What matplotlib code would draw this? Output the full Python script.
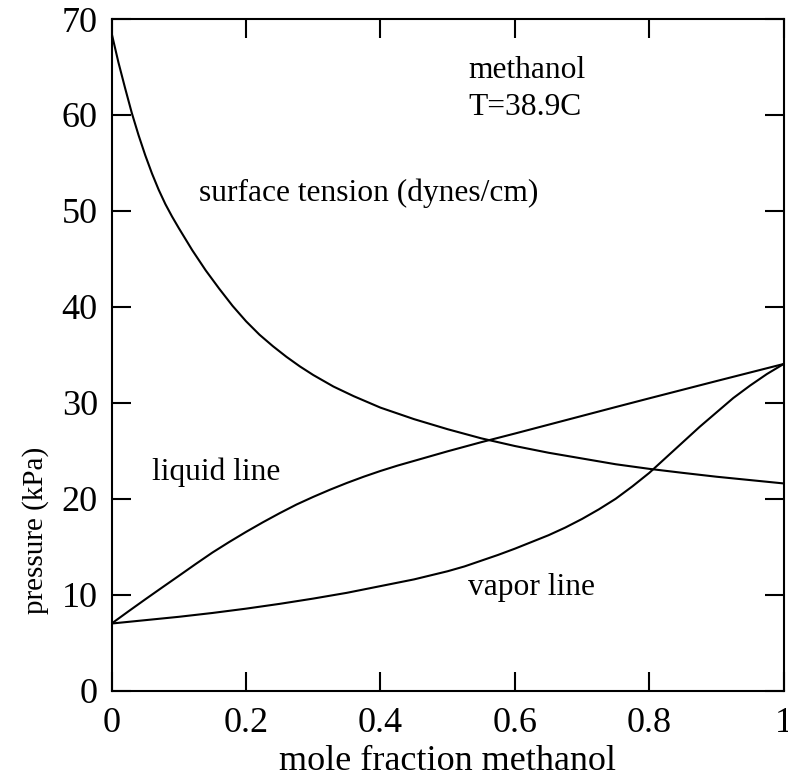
import matplotlib
matplotlib.use("Agg")
import matplotlib.pyplot as plt

plt.rcParams['font.family'] = ['Liberation Serif', 'DejaVu Serif']

# --- data ---
x_st = [0.0, 0.01, 0.02, 0.03, 0.04, 0.05, 0.06, 0.07, 0.08, 0.09, 0.10,
        0.12, 0.14, 0.16, 0.18, 0.20, 0.22, 0.24, 0.26, 0.28, 0.30, 0.33,
        0.36, 0.40, 0.45, 0.50, 0.55, 0.60, 0.65, 0.70, 0.75, 0.80, 0.85,
        0.90, 0.95, 1.0]
surface_tension = [68.5, 65.5, 62.8, 60.2, 57.9, 55.8, 53.9, 52.2, 50.7,
                   49.4, 48.2, 45.9, 43.8, 41.9, 40.1, 38.5, 37.1, 35.9,
                   34.8, 33.8, 32.9, 31.7, 30.7, 29.5, 28.3, 27.25, 26.3,
                   25.5, 24.8, 24.2, 23.6, 23.12, 22.7, 22.3, 21.95, 21.6]

x_liq = [0.0, 0.025, 0.05, 0.075, 0.1, 0.125, 0.15, 0.175, 0.2, 0.225, 0.25,
         0.275, 0.3, 0.325, 0.35, 0.375, 0.4, 0.425, 0.45, 0.475, 0.5, 0.55,
         0.6, 0.65, 0.7, 0.75, 0.8, 0.85, 0.9, 0.95, 1.0]
liquid_line = [7.0, 8.27, 9.52, 10.75, 11.97, 13.2, 14.4, 15.5, 16.55, 17.55,
               18.5, 19.4, 20.2, 20.95, 21.65, 22.3, 22.9, 23.45, 23.95,
               24.45, 24.95, 25.9, 26.8, 27.72, 28.64, 29.56, 30.47, 31.37,
               32.27, 33.16, 34.05]

x_vap = [0.0, 0.05, 0.1, 0.15, 0.2, 0.25, 0.3, 0.35, 0.4, 0.45, 0.5, 0.525,
         0.55, 0.575, 0.6, 0.625, 0.65, 0.675, 0.7, 0.725, 0.75, 0.775, 0.8,
         0.825, 0.85, 0.875, 0.9, 0.925, 0.95, 0.975, 1.0]
vapor_line = [7.0, 7.35, 7.7, 8.1, 8.55, 9.05, 9.6, 10.2, 10.9, 11.6, 12.45,
              12.95, 13.55, 14.15, 14.8, 15.5, 16.2, 17.0, 17.9, 18.9, 20.0,
              21.3, 22.7, 24.3, 25.9, 27.5, 29.0, 30.5, 31.8, 33.0, 34.05]

x_ticks = [0, 0.2, 0.4, 0.6, 0.8, 1]
x_ticklabels = ["0", "0.2", "0.4", "0.6", "0.8", "1"]
y_ticks = [0, 10, 20, 30, 40, 50, 60, 70]
y_ticklabels = ["0", "10", "20", "30", "40", "50", "60", "70"]

fig = plt.figure(figsize=(7.88, 7.80), dpi=100)
ax = fig.add_axes([0.1417, 0.1145, 0.8528, 0.8611])

lw = 1.5
ax.plot(x_st, surface_tension, color='black', lw=lw)
ax.plot(x_liq, liquid_line, color='black', lw=lw)
ax.plot(x_vap, vapor_line, color='black', lw=lw)

ax.set_xlim(0, 1)
ax.set_ylim(0, 70)
ax.set_xticks(x_ticks)
ax.set_xticklabels(x_ticklabels)
ax.set_yticks(y_ticks)
ax.set_yticklabels(y_ticklabels)
ax.tick_params(direction='in', length=14, width=1.5, labelsize=26,
               top=True, right=True, pad=10)
ax.tick_params(axis='x', pad=12)
for s in ax.spines.values():
    s.set_linewidth(1.5)

ax.set_xlabel("mole fraction methanol", fontsize=26, labelpad=3)
ax.set_ylabel("pressure (kPa)", fontsize=21)
ax.yaxis.set_label_coords(-0.114, 0.239)
ax.yaxis.label.set_verticalalignment('center')

fs = 22.7
ax.text(0.531, 63.9, "methanol", fontsize=fs, ha='left', va='baseline')
ax.text(0.531, 60.0, "T=38.9C", fontsize=fs, ha='left', va='baseline')
ax.text(0.13, 51.0, "surface tension (dynes/cm)", fontsize=fs, ha='left', va='baseline')
ax.text(0.06, 22.0, "liquid line", fontsize=fs, ha='left', va='baseline')
ax.text(0.531, 10.0, "vapor line", fontsize=fs, ha='left', va='baseline')

fig.savefig("out.png", dpi=100)
